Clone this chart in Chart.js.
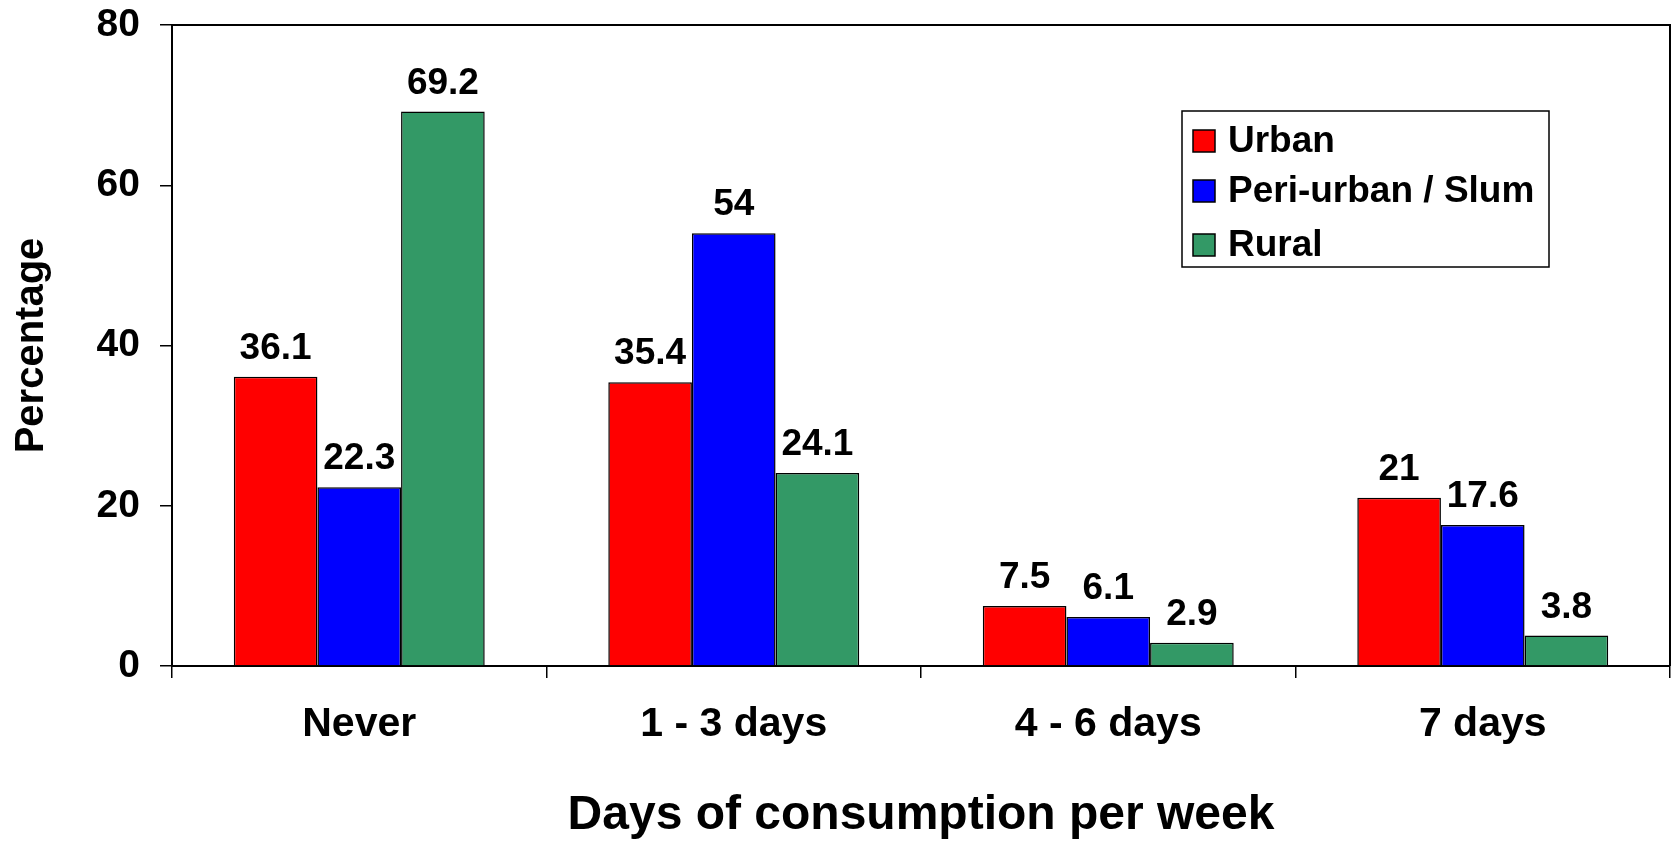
<!DOCTYPE html>
<html>
<head>
<meta charset="utf-8">
<script src="https://cdn.jsdelivr.net/npm/chart.js@4/dist/chart.umd.min.js"></script>
<style>
    html, body { margin: 0; padding: 0; background: #fff; }
    canvas { display: block; }
</style>
</head>
<body>
<canvas id="consumptionChart" width="1672" height="841"></canvas>
<script>
// Data
const categories = ['Never', '1 - 3 days', '4 - 6 days', '7 days'];
const seriesNames = ['Urban', 'Peri-urban / Slum', 'Rural'];
const urbanValues = [36.1, 35.4, 7.5, 21];
const periUrbanValues = [22.3, 54, 6.1, 17.6];
const ruralValues = [69.2, 24.1, 2.9, 3.8];
const yTicks = [0, 20, 40, 60, 80];

const FONT = '"Liberation Sans", Arial, sans-serif';
const colors = ['#FF0000', '#0000FF', '#339966'];

// Value labels above each bar
const valueLabels = {
    id: 'valueLabels',
    afterDatasetsDraw(chart) {
        const ctx = chart.ctx;
        ctx.save();
        ctx.font = 'bold 37px ' + FONT;
        ctx.fillStyle = '#000';
        ctx.textAlign = 'center';
        ctx.textBaseline = 'alphabetic';
        chart.data.datasets.forEach((ds, i) => {
            chart.getDatasetMeta(i).data.forEach((bar, j) => {
                ctx.fillText(String(ds.data[j]), bar.x, bar.y - 18);
            });
        });
        ctx.restore();
    }
};

// Top and right frame of the plot area
const plotFrame = {
    id: 'plotFrame',
    afterDraw(chart) {
        const a = chart.chartArea;
        const ctx = chart.ctx;
        ctx.save();
        ctx.strokeStyle = '#000';
        ctx.lineWidth = 2;
        ctx.beginPath();
        ctx.moveTo(a.left, a.top);
        ctx.lineTo(a.right, a.top);
        ctx.lineTo(a.right, a.bottom);
        ctx.stroke();
        ctx.restore();
    }
};

// Boxed legend inside the plot area
const boxLegend = {
    id: 'boxLegend',
    afterDraw(chart) {
        const ctx = chart.ctx;
        const x = 1182, y = 111, w = 367, h = 156;
        ctx.save();
        ctx.fillStyle = '#fff';
        ctx.fillRect(x, y, w, h);
        ctx.strokeStyle = '#000';
        ctx.lineWidth = 1.5;
        ctx.strokeRect(x, y, w, h);
        ctx.font = 'bold 37px ' + FONT;
        ctx.textBaseline = 'middle';
        ctx.textAlign = 'left';
        const rows = [141, 191, 245];
        chart.data.datasets.forEach((ds, i) => {
            const cy = rows[i];
            ctx.fillStyle = ds.backgroundColor;
            ctx.fillRect(x + 11, cy - 11, 22, 22);
            ctx.strokeRect(x + 11, cy - 11, 22, 22);
            ctx.fillStyle = '#000';
            ctx.fillText(ds.label, x + 46, cy + 1);
        });
        ctx.restore();
    }
};

const ctx = document.getElementById('consumptionChart').getContext('2d');
new Chart(ctx, {
    type: 'bar',
    data: {
        labels: categories,
        datasets: [urbanValues, periUrbanValues, ruralValues].map((vals, i) => ({
            label: seriesNames[i],
            data: vals,
            backgroundColor: colors[i],
            borderColor: '#000',
            borderWidth: 1.5,
            categoryPercentage: 0.67,
            barPercentage: 1.0
        }))
    },
    options: {
        responsive: false,
        animation: false,
        layout: { padding: { left: 0, top: 25, right: 2, bottom: 0 } },
        plugins: {
            legend: { display: false },
            tooltip: { enabled: false }
        },
        scales: {
            x: {
                grid: {
                    drawOnChartArea: false,
                    drawTicks: true,
                    tickLength: 12,
                    color: '#000',
                    lineWidth: 1.5
                },
                border: { display: true, color: '#000', width: 2 },
                ticks: {
                    color: '#000',
                    padding: 26,
                    font: { family: FONT, size: 41, weight: 'bold', lineHeight: 1 }
                },
                title: {
                    display: true,
                    text: 'Days of consumption per week',
                    color: '#000',
                    font: { family: FONT, size: 48, weight: 'bold', lineHeight: 1 },
                    padding: { top: 0, bottom: 1 }
                },
                afterFit(scale) { scale.height = 175; }
            },
            y: {
                min: 0,
                max: 80,
                afterBuildTicks(scale) {
                    scale.ticks = yTicks.map(v => ({ value: v }));
                },
                grid: {
                    drawOnChartArea: false,
                    drawTicks: true,
                    tickLength: 12,
                    color: '#000',
                    lineWidth: 1.5
                },
                border: { display: true, color: '#000', width: 2 },
                ticks: {
                    color: '#000',
                    padding: 20,
                    font: { family: FONT, size: 39, weight: 'bold', lineHeight: 1 }
                },
                title: {
                    display: true,
                    text: 'Percentage',
                    color: '#000',
                    font: { family: FONT, size: 40, weight: 'bold', lineHeight: 1 },
                    padding: { top: 12, bottom: 0 }
                },
                afterFit(scale) {
                    scale.width = 172;
                    scale.paddingTop = 0;
                    scale.paddingBottom = 0;
                }
            }
        }
    },
    plugins: [valueLabels, plotFrame, boxLegend]
});
</script>
</body>
</html>
